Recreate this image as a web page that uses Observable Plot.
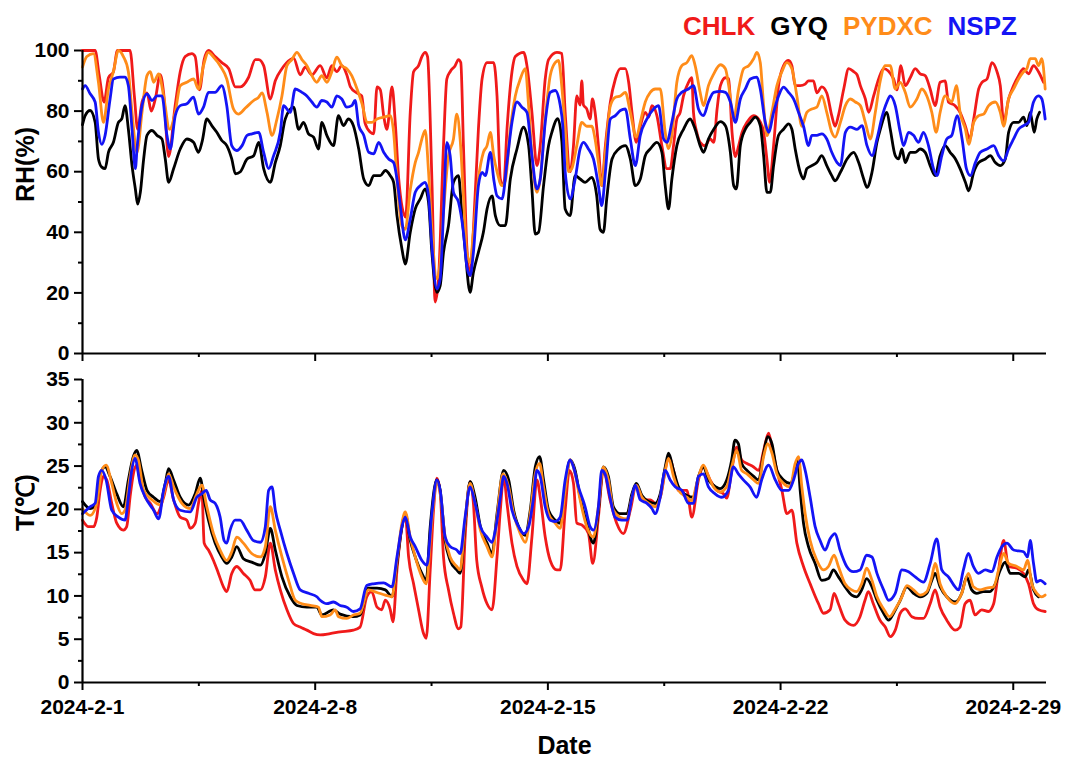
<!DOCTYPE html>
<html><head><meta charset="utf-8">
<script src="https://cdn.jsdelivr.net/npm/d3@7"></script>
<script src="https://cdn.jsdelivr.net/npm/@observablehq/plot@0.6"></script>
<style>
body{margin:0;background:#fff;}
#wrap{position:relative;width:1069px;height:760px;overflow:hidden;font-family:"Liberation Sans",Arial,sans-serif;}
#top,#bot{position:absolute;left:0}
#top{top:0} #bot{top:370px}
#legend{position:absolute;top:11px;left:683px;font:bold 26px "Liberation Sans",Arial,sans-serif;line-height:30px;white-space:nowrap;}
#legend span{margin-right:15px}
</style></head><body>
<div id="wrap"><div id="top"></div><div id="bot"></div><div id="legend"></div></div>
<script>
// ---- series ----
const names = ["CHLK", "GYQ", "PYDXC", "NSPZ"];
const colors = ["#f01a1a", "#000000", "#ff8c19", "#1414f5"];
const xTickDays = [1, 8, 15, 22, 29];          // labelled dates (Feb)
const xMinorDays = [4.5, 11.5, 18.5, 25.5];
const rhTicks = [0, 20, 40, 60, 80, 100];
const rhMinor = [10, 30, 50, 70, 90];
const tTicks = [0, 5, 10, 15, 20, 25, 30, 35];
const tMinor = [2.5, 7.5, 12.5, 17.5, 22.5, 27.5, 32.5];

// [days since 2024-02-01 00:00, value]
const rhCHLK = [[0,100],[0.38,100],[0.5,92],[0.65,83],[0.78,91],[0.93,93],[1.05,100],[1.43,100],[1.56,85],[1.66,74],[1.79,83],[1.94,86],[2.07,80],[2.19,84],[2.34,92],[2.44,86],[2.59,65],[2.79,82],[2.94,93],[3.09,98],[3.29,99],[3.39,98],[3.52,87],[3.66,97],[3.79,100],[3.99,98],[4.19,96],[4.4,94],[4.6,88],[4.75,88],[4.99,91],[5.2,97],[5.3,97],[5.45,95],[5.65,84],[5.8,90],[6.0,94],[6.25,97],[6.35,97.5],[6.55,92],[6.7,94.5],[6.9,92],[7.15,95],[7.35,91],[7.5,95],[7.65,93],[7.8,95],[7.95,92],[8.06,88],[8.25,86],[8.4,85],[8.5,76],[8.66,73],[8.76,72.5],[8.86,88],[8.96,87],[9.06,78.5],[9.16,74],[9.31,88],[9.41,76],[9.51,58],[9.72,45],[9.86,79.6],[9.96,93],[10.11,95],[10.21,98],[10.31,99.4],[10.38,98],[10.51,57.6],[10.61,17],[10.71,24.6],[10.86,68.6],[10.96,90.6],[11.06,93],[11.21,95],[11.31,97],[11.38,96],[11.46,68.6],[11.56,35.6],[11.66,25.7],[11.76,41],[11.91,74],[12.02,90.6],[12.17,96],[12.37,96],[12.47,85],[12.57,57.6],[12.67,55.4],[12.77,74],[12.92,93],[13.02,98],[13.27,99.4],[13.37,95],[13.52,79.6],[13.67,62],[13.77,68.6],[13.92,90.6],[14.02,97],[14.27,99.4],[14.42,99],[14.52,79.6],[14.67,60],[14.77,68.6],[14.87,85],[14.97,82],[15.02,90],[15.07,82],[15.17,80.7],[15.27,77.4],[15.34,84],[15.42,79.6],[15.52,68.6],[15.62,55.4],[15.73,68.6],[15.88,83],[16.03,90.6],[16.18,94],[16.33,94],[16.43,89.5],[16.53,79.6],[16.66,69.7],[16.78,75],[16.93,79.6],[17.03,78],[17.13,81.8],[17.28,78.5],[17.43,68.6],[17.58,61],[17.68,61],[17.78,68.6],[17.88,77.4],[17.98,79.6],[18.08,85],[18.23,89.5],[18.33,91],[18.38,79.6],[18.48,73],[18.58,69.7],[18.73,68.6],[18.88,70.8],[18.99,69.7],[19.09,80.7],[19.19,88.4],[19.34,91],[19.44,90.6],[19.54,73],[19.64,65],[19.74,68.6],[19.84,73],[19.99,76.3],[20.19,78.5],[20.34,77.4],[20.49,73],[20.59,64],[20.67,56.5],[20.79,68.6],[20.94,88.4],[21.09,95],[21.24,96.7],[21.34,95],[21.44,88.4],[21.59,88.4],[21.74,88.9],[21.84,90],[21.99,90],[22.09,86],[22.24,88],[22.39,86],[22.54,78.5],[22.64,75],[22.74,78.5],[22.9,87.3],[23.05,94],[23.2,93],[23.3,92],[23.4,88.4],[23.55,84],[23.65,79.6],[23.8,85],[23.95,90.6],[24.1,94],[24.4,90.6],[24.5,87],[24.62,95],[24.75,88.4],[24.9,91],[25.05,94],[25.2,92.3],[25.35,91.7],[25.5,87.3],[25.65,81.8],[25.8,89.5],[25.95,90],[26.05,83],[26.25,81.8],[26.4,79.6],[26.56,75],[26.69,70.8],[26.81,77.4],[26.96,87.3],[27.06,89.5],[27.21,90.6],[27.36,96],[27.51,93],[27.61,88.4],[27.71,76.3],[27.86,84],[28.01,88.4],[28.16,91.7],[28.31,94],[28.46,92.3],[28.61,95],[28.76,93],[28.91,89.5]];
const rhGYQ = [[0,75.5],[0.08,78.5],[0.23,80.2],[0.38,76.3],[0.48,64.2],[0.58,61.5],[0.68,61],[0.78,66.4],[0.93,69.7],[1.08,76.3],[1.18,77.4],[1.28,81.8],[1.38,74],[1.49,62],[1.59,54.3],[1.66,49.3],[1.74,53.2],[1.84,64.2],[1.94,72],[2.09,73.6],[2.24,72],[2.39,70.8],[2.49,64.2],[2.59,56.5],[2.74,61],[2.94,67.5],[3.14,70.8],[3.34,69.7],[3.49,66.4],[3.6,70],[3.74,77.4],[3.89,75.2],[4.04,73],[4.19,70.3],[4.34,68.6],[4.49,64.2],[4.6,59.3],[4.75,60],[4.95,64.2],[5.15,65.3],[5.3,69.7],[5.45,61],[5.65,56.5],[5.8,63],[5.95,68.6],[6.1,77.4],[6.35,81.3],[6.5,74],[6.65,76.3],[6.8,72.5],[6.95,71.4],[7.1,67.5],[7.2,76.3],[7.35,72],[7.55,68.6],[7.7,78.5],[7.85,75.2],[8.0,77.4],[8.15,75.2],[8.31,67.5],[8.46,57.6],[8.61,55.4],[8.76,58.7],[8.96,58.7],[9.11,60.4],[9.26,58.7],[9.36,56.5],[9.46,45.5],[9.61,34.5],[9.71,29.5],[9.86,40],[10.01,47.7],[10.16,51],[10.31,54.3],[10.41,49.9],[10.51,33.4],[10.66,20.2],[10.76,22.4],[10.86,33.4],[11.01,42.2],[11.16,56.5],[11.31,58.7],[11.41,46.6],[11.51,34.5],[11.66,20.2],[11.76,26.8],[11.91,33.4],[12.06,40],[12.17,47.7],[12.32,52],[12.42,45.5],[12.57,42.2],[12.72,42.2],[12.87,57.6],[13.07,67.5],[13.27,74.7],[13.42,68.6],[13.52,54.3],[13.62,39.4],[13.72,40],[13.87,55.4],[14.02,68.6],[14.12,73],[14.3,77.5],[14.42,70],[14.52,47.7],[14.67,45.5],[14.82,58.7],[14.97,57.6],[15.12,56.5],[15.32,58.1],[15.47,52],[15.57,41],[15.67,40],[15.77,51],[15.93,64.2],[16.13,67.5],[16.33,68.6],[16.48,64.2],[16.63,55.4],[16.78,57.6],[16.93,65.3],[17.08,67.5],[17.28,69.7],[17.43,66.4],[17.53,55.4],[17.63,47.7],[17.73,57.6],[17.88,68.6],[18.08,74],[18.28,77.4],[18.43,74],[18.58,68.6],[18.68,66.4],[18.83,70.8],[18.99,74],[19.19,76.5],[19.34,75.2],[19.49,66.4],[19.59,55.4],[19.67,54.3],[19.79,68.6],[19.94,74],[20.09,76.3],[20.24,78],[20.39,75.2],[20.49,65.3],[20.59,53.2],[20.69,53.2],[20.79,62],[20.94,72],[21.09,74],[21.24,75.8],[21.34,74],[21.44,67.5],[21.59,59.8],[21.69,57.6],[21.79,61],[21.94,62],[22.09,63],[22.24,65.3],[22.39,62],[22.54,58.7],[22.64,57],[22.8,59.8],[23.0,64.2],[23.2,66.4],[23.35,63],[23.5,57.6],[23.6,54.8],[23.75,59.8],[23.9,69.7],[24.0,74],[24.2,79.6],[24.3,74],[24.45,65.3],[24.55,64.2],[24.65,67.5],[24.75,63],[24.9,66.4],[25.05,66.4],[25.2,67.5],[25.35,66.4],[25.5,62],[25.65,58.7],[25.8,65.3],[25.95,68.6],[26.1,66.4],[26.26,64.2],[26.4,61],[26.56,56.5],[26.66,53.7],[26.81,59.8],[26.96,63],[27.16,64.2],[27.31,65.3],[27.46,63],[27.61,62],[27.76,64.2],[27.86,73],[28.01,76.3],[28.16,76.3],[28.31,78],[28.41,75.2],[28.51,79.6],[28.63,73],[28.71,77.4],[28.79,79.6]];
const rhPYDXC = [[0,94.5],[0.13,98],[0.33,99],[0.48,89.5],[0.63,76.3],[0.78,87.3],[0.93,93],[1.08,100],[1.23,98],[1.38,93],[1.49,79.6],[1.64,66.4],[1.79,79.6],[1.94,91.7],[2.04,93],[2.14,89.5],[2.29,92.3],[2.44,85],[2.62,74],[2.79,79.6],[2.94,88.4],[3.14,89.5],[3.34,90.6],[3.49,87.3],[3.64,95],[3.79,99.4],[3.94,97.8],[4.14,95],[4.34,90.6],[4.54,80.7],[4.69,79],[4.9,81],[5.15,83.5],[5.3,84.6],[5.4,86],[5.55,79.6],[5.7,72],[5.85,77.4],[6.0,85],[6.15,95],[6.3,97],[6.45,99.4],[6.6,97],[6.75,95],[6.9,91.7],[7.05,89.5],[7.2,91.7],[7.35,89.5],[7.5,93],[7.65,97.8],[7.8,95],[7.95,94],[8.1,91.7],[8.26,87.3],[8.41,82.4],[8.56,76.3],[8.71,76.3],[8.86,77.4],[9.06,78],[9.26,78.5],[9.36,73],[9.46,57.6],[9.61,42],[9.71,41],[9.86,54],[10.01,63],[10.11,66.4],[10.21,70.8],[10.31,73.6],[10.41,60],[10.51,41],[10.66,24.6],[10.76,30],[10.86,46.6],[11.01,65.3],[11.16,70.8],[11.26,79],[11.36,70.8],[11.46,52],[11.56,33.4],[11.66,30],[11.76,40],[11.91,57.6],[12.06,66.4],[12.17,68.6],[12.27,73],[12.37,65.3],[12.47,60],[12.62,55.4],[12.72,57],[12.87,74],[13.02,85],[13.17,90.6],[13.32,94],[13.42,81.8],[13.52,65.3],[13.67,53.2],[13.77,57.6],[13.92,77.4],[14.07,91.7],[14.22,96],[14.32,96.7],[14.42,88],[14.52,74],[14.62,60],[14.72,61],[14.87,68.6],[15.02,76.3],[15.17,75],[15.32,75],[15.42,70.8],[15.52,63],[15.62,55.4],[15.73,66.4],[15.88,81.8],[16.03,84.6],[16.18,85],[16.33,86.2],[16.48,79.6],[16.66,71.4],[16.78,76.3],[16.93,83],[17.08,86.2],[17.23,87.3],[17.38,87.3],[17.53,73],[17.63,67.6],[17.73,72],[17.88,89.5],[18.03,95],[18.18,96],[18.33,98.3],[18.43,95],[18.58,86.2],[18.68,81.8],[18.83,88.4],[18.99,92.3],[19.19,95.3],[19.34,94],[19.44,88.4],[19.59,77.4],[19.74,87.3],[19.89,94],[20.04,95],[20.19,97.3],[20.29,99.4],[20.39,96],[20.49,81.8],[20.59,71.9],[20.74,79.6],[20.89,88.4],[21.04,93],[21.19,96],[21.34,94],[21.49,85],[21.64,75],[21.79,79.6],[21.94,80.7],[22.09,81.3],[22.24,85],[22.39,79.6],[22.54,73],[22.64,71.4],[22.8,76.3],[22.95,81.8],[23.1,84],[23.25,83],[23.4,81.8],[23.55,76.3],[23.7,70.8],[23.85,79.6],[24.0,90],[24.15,95],[24.3,95],[24.45,87.3],[24.6,89.5],[24.75,86.2],[24.9,81.3],[25.1,84],[25.25,87.3],[25.4,85],[25.55,79.6],[25.68,73],[25.8,79.6],[25.95,85],[26.15,83],[26.29,88.4],[26.4,79.6],[26.56,74],[26.66,69],[26.81,76.3],[26.96,78.5],[27.11,79],[27.26,81.8],[27.46,83],[27.61,79.6],[27.71,75],[27.86,84],[28.01,87.3],[28.16,90.6],[28.31,93],[28.41,94],[28.51,97.3],[28.66,97.3],[28.76,95],[28.86,97.3],[28.96,87.3]];
const rhNSPZ = [[0,87.3],[0.08,88.4],[0.23,85.7],[0.38,83],[0.48,73],[0.58,69],[0.68,72],[0.83,84],[0.93,90.6],[1.13,91.2],[1.28,91.2],[1.38,88.4],[1.49,74],[1.59,61],[1.64,67.5],[1.79,81.8],[1.94,85.7],[2.09,83.5],[2.24,85],[2.39,85],[2.54,72],[2.64,67.5],[2.79,78.5],[2.94,81.8],[3.14,82.4],[3.34,84.6],[3.49,79],[3.64,81.3],[3.79,86.2],[3.99,86.2],[4.19,88.4],[4.34,81.8],[4.49,68.6],[4.64,67],[4.8,68.6],[4.95,72],[5.1,72.5],[5.3,73],[5.45,66.4],[5.6,61],[5.75,65.3],[5.95,73],[6.05,81.8],[6.25,79.6],[6.4,87.3],[6.6,86.2],[6.75,85],[6.9,83],[7.05,81.3],[7.2,83.5],[7.35,83],[7.5,81.3],[7.65,85],[7.8,84],[7.95,81.3],[8.1,81.8],[8.2,83.5],[8.31,75.2],[8.46,72],[8.61,66.4],[8.76,65.9],[8.91,69.7],[9.06,66.4],[9.21,64.2],[9.36,63],[9.46,57.6],[9.56,48.8],[9.71,37.5],[9.86,44.4],[10.01,53.2],[10.16,55.4],[10.31,56.5],[10.41,52],[10.51,35.6],[10.66,21.3],[10.76,24.6],[10.86,46.6],[10.96,69.7],[11.06,65.3],[11.16,53.2],[11.31,50],[11.46,40],[11.56,29],[11.66,25.7],[11.76,33.4],[11.91,55.4],[12.02,59.8],[12.12,58.7],[12.27,66.4],[12.37,57.6],[12.47,52],[12.62,51],[12.77,63],[12.92,76.3],[13.07,83],[13.22,81.3],[13.37,79.6],[13.52,65.3],[13.67,54.3],[13.77,57.6],[13.92,76.3],[14.07,86.2],[14.22,86.8],[14.37,82],[14.45,75],[14.52,60],[14.67,51],[14.82,57.6],[14.97,67.5],[15.07,69.7],[15.22,67.5],[15.37,64.2],[15.52,55.4],[15.62,48.8],[15.73,59.8],[15.88,77.4],[16.03,78.5],[16.18,80.2],[16.33,80.7],[16.48,70.8],[16.63,62],[16.78,72],[16.98,77.4],[17.18,80.7],[17.33,81.8],[17.48,70.8],[17.58,69.7],[17.73,76.3],[17.88,84],[18.03,86.2],[18.23,87.3],[18.38,88.4],[18.53,80.7],[18.68,78.5],[18.83,83],[18.99,86.2],[19.19,86.5],[19.34,86.2],[19.49,83],[19.64,76.3],[19.79,84],[19.94,87.3],[20.09,90.6],[20.29,91.2],[20.39,87.3],[20.54,76.3],[20.64,73],[20.79,79.6],[20.94,85],[21.09,87.9],[21.24,86.2],[21.39,84],[21.54,79.6],[21.69,75],[21.84,68.6],[21.94,72],[22.09,72],[22.24,72.5],[22.39,70.8],[22.54,66.4],[22.7,63],[22.8,62],[22.95,73],[23.1,74.7],[23.3,74],[23.45,75.2],[23.6,68.6],[23.75,65.3],[23.9,70.8],[24.05,78],[24.2,83],[24.3,85],[24.45,81.8],[24.6,73],[24.7,68.6],[24.85,73],[25.0,72],[25.15,69.7],[25.3,73],[25.45,68.6],[25.6,61],[25.7,58.7],[25.85,65.3],[26.0,70.8],[26.15,72],[26.31,78.5],[26.46,70.8],[26.59,61],[26.71,58.7],[26.86,63],[27.01,66.4],[27.21,67.5],[27.41,68.6],[27.56,65.3],[27.71,63.6],[27.86,67.5],[28.01,70.8],[28.16,74],[28.31,75.2],[28.46,76.3],[28.61,83],[28.76,85],[28.86,84],[28.96,77.4]];

const tCHLK = [[0,18.75],[0.18,18],[0.33,18],[0.43,19.1],[0.53,22.2],[0.63,23.8],[0.73,23.4],[0.88,20.7],[1.03,18.4],[1.23,17.6],[1.33,18],[1.43,21.4],[1.53,24.1],[1.63,25.1],[1.73,23.4],[1.89,21.4],[2.04,20.7],[2.24,19.5],[2.44,21.4],[2.59,23.4],[2.74,21.1],[2.94,19.1],[3.14,18.75],[3.24,17.8],[3.39,18.4],[3.49,20.7],[3.59,22.2],[3.66,16.1],[3.79,15.3],[3.94,14.1],[4.09,12.6],[4.24,11.05],[4.34,10.5],[4.49,12.6],[4.64,13.4],[4.84,12.6],[5.04,11.8],[5.19,10.7],[5.35,10.7],[5.5,12.2],[5.65,16.1],[5.8,13],[5.95,10.7],[6.15,8.4],[6.35,6.8],[6.55,6.4],[6.75,6.05],[6.95,5.65],[7.15,5.5],[7.45,5.65],[7.75,5.85],[8.15,6.05],[8.35,6.4],[8.55,9.9],[8.7,10.5],[8.86,8.7],[9.0,8.4],[9.11,9.5],[9.26,8.4],[9.34,7],[9.46,13],[9.61,18],[9.71,19.5],[9.81,14.5],[9.96,11.4],[10.11,8.4],[10.26,5.65],[10.34,5.1],[10.46,13],[10.56,19.9],[10.66,23.6],[10.76,22],[10.86,14.5],[11.01,10.7],[11.16,8],[11.31,6.2],[11.38,6.4],[11.51,16.8],[11.66,23.2],[11.76,20.7],[11.86,14.1],[12.01,11.05],[12.17,9.1],[12.32,8.4],[12.47,14.5],[12.57,19.9],[12.67,23.8],[12.77,20.7],[12.92,16.1],[13.07,13.4],[13.27,11.8],[13.37,11.4],[13.52,16.8],[13.67,23.4],[13.77,21.4],[13.92,16.8],[14.07,14.1],[14.27,13],[14.37,13],[14.52,19.9],[14.65,24.5],[14.77,23],[14.87,18.4],[15.02,18.2],[15.22,17.2],[15.35,13.75],[15.52,19.1],[15.67,24.5],[15.87,21.1],[16.07,18.4],[16.27,17.2],[16.48,19.9],[16.66,22.8],[16.88,21.1],[17.08,21.1],[17.23,20.7],[17.38,21.4],[17.53,24.5],[17.63,26.3],[17.78,24.5],[17.93,22.2],[18.18,22.2],[18.33,19.1],[18.53,23.4],[18.68,24.9],[18.88,23.4],[19.08,22.2],[19.28,21.8],[19.38,21.3],[19.53,24.5],[19.68,27.2],[19.83,25.7],[19.99,25.3],[20.19,24.9],[20.34,24.5],[20.49,26.8],[20.64,28.8],[20.74,27.2],[20.89,24.5],[21.04,22.2],[21.19,19.5],[21.34,19.9],[21.49,16.1],[21.69,13.4],[21.89,11.4],[22.14,9.1],[22.29,8],[22.49,8.4],[22.61,10.3],[22.74,9.1],[22.94,7.2],[23.19,6.6],[23.39,7.6],[23.54,9.5],[23.64,10.5],[23.79,9.1],[23.99,7.2],[24.15,6.4],[24.3,5.3],[24.45,6.05],[24.6,8],[24.75,8.5],[24.95,7.6],[25.15,7.4],[25.3,7.4],[25.5,9.1],[25.65,10.7],[25.8,8.7],[26.0,7.2],[26.25,6.05],[26.4,6.4],[26.55,9.1],[26.7,9.5],[26.85,7.8],[27.05,8.4],[27.25,8.2],[27.41,9.1],[27.56,13],[27.71,16.4],[27.86,13.4],[28.11,13.2],[28.31,12.6],[28.46,11.4],[28.61,9.1],[28.76,8.4],[28.96,8.2]];
const tGYQ = [[0,20.9],[0.23,20.1],[0.43,20.7],[0.53,24.1],[0.68,24.9],[0.83,23.8],[1.03,21.8],[1.23,20.3],[1.38,23.4],[1.53,26.1],[1.63,26.8],[1.78,24.5],[1.94,22.2],[2.14,21.4],[2.34,20.9],[2.49,23],[2.59,24.7],[2.74,23.4],[2.94,21.4],[3.19,20.5],[3.39,21.8],[3.54,23.6],[3.66,21.1],[3.79,18.75],[3.99,16.1],[4.19,14.5],[4.34,13.75],[4.49,14.5],[4.64,15.7],[4.84,14.3],[5.09,13.9],[5.35,13.55],[5.5,14.9],[5.65,17.8],[5.8,15.3],[6.0,12.2],[6.25,9.9],[6.45,8.9],[6.75,8.7],[7.05,8.7],[7.2,7.8],[7.55,8.4],[7.75,7.9],[8.15,7.6],[8.35,7.8],[8.6,10.9],[8.86,10.9],[9.11,10.7],[9.31,9.9],[9.46,13.75],[9.61,18],[9.71,19.5],[9.86,16.4],[10.01,14.5],[10.21,12.6],[10.34,11.8],[10.46,18],[10.66,23.4],[10.76,22.2],[10.91,16.4],[11.06,14.1],[11.26,13],[11.36,12.6],[11.51,18.4],[11.66,23.2],[11.81,21.4],[11.97,18],[12.17,16.1],[12.32,14.9],[12.47,19.5],[12.67,24.5],[12.82,23.4],[12.97,19.9],[13.17,17.6],[13.32,17],[13.47,19.9],[13.62,24.9],[13.75,26.1],[13.87,23.4],[14.02,19.9],[14.22,18.75],[14.37,18.4],[14.52,22.6],[14.67,25.7],[14.82,24.5],[14.97,21.4],[15.17,18.4],[15.37,16.1],[15.52,19.9],[15.67,24.9],[15.82,23.8],[15.97,20.3],[16.17,19.5],[16.38,19.5],[16.53,21.8],[16.66,23],[16.83,21.6],[17.03,20.9],[17.23,20.7],[17.38,21.8],[17.53,24.9],[17.63,26.5],[17.78,24.5],[17.93,22.6],[18.18,21.6],[18.38,21.4],[18.53,23.8],[18.68,24.9],[18.83,23.4],[18.98,22.8],[19.18,22.4],[19.38,23.4],[19.53,25.7],[19.63,28],[19.73,27.6],[19.83,25.3],[19.99,24.5],[20.19,23.8],[20.34,23.4],[20.49,26.5],[20.61,28.4],[20.74,27.6],[20.89,24.5],[21.09,23.4],[21.29,23],[21.44,24.5],[21.51,25.7],[21.59,22.2],[21.69,18.4],[21.84,15.7],[22.04,13.75],[22.24,11.8],[22.44,12],[22.59,13],[22.74,12.2],[22.94,11.05],[23.14,10.1],[23.29,9.9],[23.44,10.7],[23.59,12],[23.75,11.05],[23.9,9.5],[24.1,8],[24.25,7.2],[24.4,8],[24.6,9.5],[24.8,11.05],[25.0,10.3],[25.2,9.9],[25.4,10.3],[25.55,11.8],[25.65,12.6],[25.8,11.05],[26.0,9.9],[26.25,9.3],[26.45,10.3],[26.6,12.2],[26.75,10.7],[26.9,10.3],[27.1,10.5],[27.3,10.5],[27.46,11.4],[27.61,13],[27.76,13.9],[27.91,12.6],[28.16,12.6],[28.36,12.2],[28.46,13],[28.61,10.7],[28.76,9.9]];
const tPYDXC = [[0,20.1],[0.23,19.3],[0.43,20.7],[0.58,24.5],[0.71,25.1],[0.88,23],[1.03,20.7],[1.18,19.5],[1.28,19.9],[1.43,23.8],[1.58,26.3],[1.68,25.7],[1.84,22.2],[2.09,21.1],[2.34,20.5],[2.49,22.6],[2.59,24.1],[2.74,22.6],[2.99,20.7],[3.24,20.1],[3.44,21.8],[3.59,22.8],[3.74,20.3],[3.94,17.2],[4.14,15.3],[4.34,14.1],[4.49,15.1],[4.64,16.8],[4.84,16.1],[5.09,14.9],[5.35,14.5],[5.5,15.7],[5.65,20.3],[5.8,17.6],[6.0,14.5],[6.2,11.8],[6.4,9.5],[6.6,9.1],[6.85,8.9],[7.1,8.7],[7.2,7.6],[7.45,7.8],[7.6,8.4],[7.7,7.6],[7.95,7.4],[8.15,7.8],[8.35,8],[8.6,10.7],[8.86,10.4],[9.11,10.1],[9.31,9.9],[9.46,14.1],[9.61,18.4],[9.71,19.7],[9.86,16.8],[10.01,14.5],[10.21,12.2],[10.34,11.4],[10.51,18.75],[10.66,23.2],[10.76,21.8],[10.91,16.8],[11.06,14.5],[11.26,13.4],[11.36,13],[11.51,18.75],[11.66,23],[11.81,20.7],[11.97,17.6],[12.17,15.7],[12.32,14.5],[12.47,19.1],[12.65,24.1],[12.82,22.6],[12.97,19.5],[13.17,17.2],[13.32,16.2],[13.47,19.5],[13.62,24.1],[13.75,25.3],[13.87,22.6],[14.02,19.5],[14.22,18.4],[14.37,17.8],[14.52,22.2],[14.67,25.7],[14.82,24.1],[14.97,21.1],[15.17,18],[15.37,16.8],[15.52,20.3],[15.67,24.9],[15.82,23.4],[15.97,19.9],[16.17,19.1],[16.38,18.9],[16.53,21.4],[16.66,22.8],[16.83,21.4],[17.03,20.7],[17.23,20.3],[17.38,21.4],[17.53,24.5],[17.63,25.9],[17.78,23.8],[17.93,22.2],[18.18,21.4],[18.33,21],[18.48,23],[18.68,25.1],[18.83,23.8],[18.98,22.6],[19.18,22],[19.38,22.6],[19.53,24.9],[19.68,26.8],[19.83,24.5],[19.99,24.1],[20.19,23.4],[20.34,23],[20.49,26.1],[20.61,27.6],[20.74,26.5],[20.89,24.1],[21.09,23],[21.29,22.6],[21.44,25.3],[21.54,26.1],[21.64,22.6],[21.74,19.5],[21.89,16.4],[22.09,14.1],[22.29,13],[22.44,13.4],[22.61,14.7],[22.74,13.4],[22.94,11.4],[23.14,10.7],[23.29,10.5],[23.44,11.4],[23.59,13.2],[23.75,11.8],[23.9,9.9],[24.1,8.5],[24.28,7.6],[24.45,8.5],[24.65,9.9],[24.8,11.2],[25.0,10.7],[25.2,10.1],[25.4,10.5],[25.55,12.2],[25.65,13.75],[25.8,11.4],[26.0,9.9],[26.25,9.1],[26.45,10.3],[26.65,12.6],[26.8,11.05],[27.0,10.7],[27.2,10.9],[27.41,11.05],[27.56,13],[27.71,14.9],[27.86,13.75],[28.11,13.4],[28.31,13],[28.43,14.1],[28.56,11.4],[28.71,10.3],[28.86,9.9],[28.96,10.1]];
const tNSPZ = [[0,19.5],[0.23,20.3],[0.38,20.7],[0.48,23.8],[0.58,24.5],[0.71,23.4],[0.88,19.9],[1.08,19.1],[1.28,18.75],[1.38,21.4],[1.48,24.5],[1.58,25.9],[1.73,23],[1.89,21.4],[2.14,19.9],[2.29,18.9],[2.44,22.2],[2.59,23.8],[2.74,21.1],[2.94,19.9],[3.24,19.7],[3.44,21.4],[3.59,21.8],[3.72,22.2],[3.84,21.1],[3.99,20.7],[4.14,19.1],[4.26,16.4],[4.34,16.1],[4.44,17.6],[4.59,18.75],[4.74,18.75],[4.94,17.6],[5.14,16.4],[5.35,16.2],[5.5,18],[5.6,22.2],[5.7,22.6],[5.8,19.9],[5.95,17.6],[6.15,14.9],[6.35,12.6],[6.55,10.7],[6.8,10.3],[7.05,9.9],[7.15,9.5],[7.35,9.1],[7.55,9.3],[7.75,8.9],[7.95,8.7],[8.15,8.2],[8.35,8.5],[8.55,11.2],[8.75,11.4],[9.06,11.5],[9.31,11.05],[9.46,14.5],[9.61,18],[9.71,19.1],[9.86,16.8],[10.01,15.7],[10.21,14.1],[10.36,13.55],[10.51,19.5],[10.66,23.4],[10.76,22.2],[10.91,16.8],[11.06,15.7],[11.26,15.3],[11.36,14.9],[11.51,19.1],[11.66,22.6],[11.81,20.7],[11.97,18],[12.17,16.8],[12.32,16.2],[12.42,17.6],[12.57,21.4],[12.67,23.8],[12.77,23],[12.92,19.9],[13.12,18],[13.27,17.2],[13.42,18],[13.57,21.4],[13.67,24.5],[13.77,23.8],[13.92,20.3],[14.07,18.75],[14.22,18.6],[14.37,19.1],[14.52,23.4],[14.67,25.7],[14.77,24.9],[14.92,22.6],[15.12,20.3],[15.27,18],[15.37,17.6],[15.52,20.3],[15.62,24.5],[15.72,24.1],[15.87,21.4],[16.02,19.1],[16.22,18.75],[16.38,18.75],[16.53,21.4],[16.63,22.8],[16.78,21.1],[16.98,20.7],[17.13,20.1],[17.23,19.5],[17.38,21.4],[17.53,24.5],[17.68,23.4],[17.83,22.6],[18.03,22.2],[18.23,20.7],[18.38,20.7],[18.53,23.8],[18.68,24.1],[18.83,22.6],[19.03,21.8],[19.23,21.4],[19.43,22.2],[19.58,24.9],[19.73,24.1],[19.88,23.4],[20.08,22.6],[20.28,21.4],[20.43,23.4],[20.64,25.1],[20.84,23.4],[21.04,22.2],[21.24,22.2],[21.39,23.4],[21.54,25.3],[21.64,25.7],[21.74,24.5],[21.89,21.4],[22.04,18],[22.19,16.4],[22.34,15.3],[22.49,16.6],[22.64,17.2],[22.79,15.3],[22.99,13.4],[23.19,12.8],[23.39,13],[23.59,14.7],[23.75,14.5],[23.9,12.6],[24.1,10.7],[24.25,9.5],[24.45,10.3],[24.65,13],[24.85,12.8],[25.05,12.2],[25.3,11.6],[25.5,13.75],[25.7,16.6],[25.85,13],[26.05,12.2],[26.25,11.05],[26.35,10.7],[26.5,13],[26.65,14.9],[26.8,13.4],[26.95,12.6],[27.16,13],[27.36,12.8],[27.51,14.5],[27.66,15.7],[27.81,16.1],[28.01,15.3],[28.31,15.1],[28.43,14.5],[28.51,16.4],[28.61,13.75],[28.71,11.6],[28.81,11.8],[28.96,11.4]];

// ---- build ----
const T0 = Date.UTC(2024, 1, 1);
const dayToDate = d => new Date(T0 + d * 864e5);
const xDomain = [dayToDate(0), dayToDate(29)];
const majorX = xTickDays.map(d => dayToDate(d - 1));
const minorX = xMinorDays.map(d => dayToDate(d - 1));
const fmtX = d => `2024-${d.getUTCMonth() + 1}-${d.getUTCDate()}`;

function rows(list) {
  const out = [];
  list.forEach((arr, i) => arr.forEach(([d, v]) => out.push({date: dayToDate(d), value: v, series: names[i]})));
  return out;
}
const rhRows = rows([rhCHLK, rhGYQ, rhPYDXC, rhNSPZ]);
const tRows = rows([tCHLK, tGYQ, tPYDXC, tNSPZ]);

const FONT = '"Liberation Sans", Arial, Helvetica, sans-serif';
const common = {
  width: 1069, marginLeft: 82, marginRight: 23,
  style: {fontFamily: FONT, fontWeight: "bold", fontSize: "21px", color: "#000", background: "transparent", overflow: "visible"},
  x: {type: "utc", domain: xDomain, axis: null},
  color: {domain: names, range: colors}
};

function panel(rowsData, yDomain, yMajor, yMinor, yLabel, opts, withXLabels) {
  const marks = [
    Plot.axisY({ticks: yMajor, tickSize: 8, tickPadding: 5, label: null, fontSize: 21, fontWeight: "bold", strokeWidth: 2}),
    Plot.axisY({ticks: yMinor, tickSize: 4, label: null, tickFormat: () => "", strokeWidth: 2}),
    Plot.axisX({ticks: majorX, tickSize: 8, tickPadding: 9, label: null, fontSize: 21, fontWeight: "bold", strokeWidth: 2,
      tickFormat: withXLabels ? fmtX : () => ""}),
    Plot.axisX({ticks: minorX, tickSize: 4, label: null, tickFormat: () => "", strokeWidth: 2}),
    Plot.line(rowsData, {x: "date", y: "value", z: "series", stroke: "series", strokeWidth: 2.8, curve: "monotone-x"}),
    Plot.ruleY([yDomain[0]], {stroke: "#000", strokeWidth: 2.2}),
    Plot.ruleX([xDomain[0]], {stroke: "#000", strokeWidth: 2.2}),
    Plot.text([yLabel], {text: d => d, frameAnchor: "left", dx: -57, rotate: -90, fontSize: 25, fontWeight: "bold"})
  ];
  if (withXLabels) marks.push(Plot.text(["Date"], {text: d => d, frameAnchor: "bottom", dy: 71, fontSize: 25, fontWeight: "bold"}));
  return Plot.plot({...common, ...opts, y: {domain: yDomain, axis: null}, marks});
}

document.getElementById("top").append(
  panel(rhRows, [0, 100], rhTicks, rhMinor, "RH(%)", {height: 370, marginTop: 50, marginBottom: 17}, false));
document.getElementById("bot").append(
  panel(tRows, [0, 35], tTicks, tMinor, "T(℃)", {height: 390, marginTop: 9, marginBottom: 78}, true));

const legend = document.getElementById("legend");
names.forEach((n, i) => {
  const s = document.createElement("span");
  s.textContent = n;
  s.style.color = colors[i];
  legend.append(s);
});
</script>
</body></html>
